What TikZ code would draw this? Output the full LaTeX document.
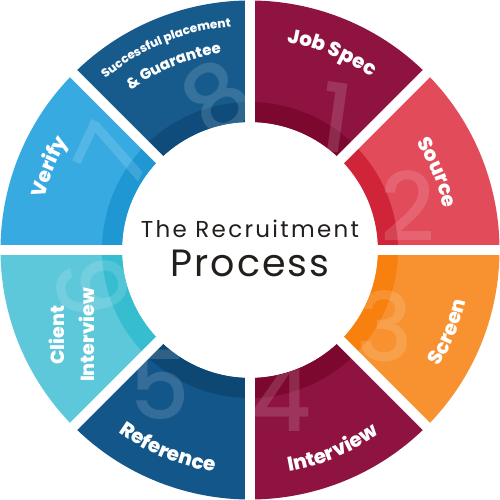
\documentclass[tikz,border=0pt]{standalone}
\usepackage{fontspec}
\setmainfont{Poppins}
\newfontfamily\heavyfont{Poppins ExtraBold}
\newfontfamily\midfont{Poppins Medium}
\usetikzlibrary{decorations.text}
\definecolor{sOneM}{HTML}{8E1341}
\definecolor{sOneB}{HTML}{7C072F}
\definecolor{sTwoM}{HTML}{E24B5A}
\definecolor{sTwoB}{HTML}{D02538}
\definecolor{sThrM}{HTML}{F89230}
\definecolor{sThrB}{HTML}{F7800F}
\definecolor{sFouM}{HTML}{8E1341}
\definecolor{sFouB}{HTML}{7C072F}
\definecolor{sFivM}{HTML}{13568A}
\definecolor{sFivB}{HTML}{0D4773}
\definecolor{sSixM}{HTML}{5DC8DA}
\definecolor{sSixB}{HTML}{36BDD0}
\definecolor{sSevM}{HTML}{37AAE1}
\definecolor{sSevB}{HTML}{1E97D2}
\definecolor{sEigM}{HTML}{175B8D}
\definecolor{sEigB}{HTML}{0F4C7B}
\definecolor{inkc}{HTML}{221E1C}
\newcommand\myLabFont{\fontsize{20}{20}\selectfont\heavyfont}
\tikzset{
  numtext/.style={text=white, opacity=0.14, font=\fontsize{95}{95}\selectfont\midfont, inner sep=0pt},
  arclab/.style={decorate, decoration={text along path, text align=center, text color=white, text={#1}}},
  gapline/.style={white, line width=10pt},
}
\begin{document}
\begin{tikzpicture}[x=1pt,y=1pt]
\useasboundingbox (-250,-250) rectangle (250,250);
% segments
\foreach \a/\m/\b in {45/sOneM/sOneB, 0/sTwoM/sTwoB, -45/sThrM/sThrB, -90/sFouM/sFouB, -135/sFivM/sFivB, 180/sSixM/sSixB, 135/sSevM/sSevB, 90/sEigM/sEigB}{
  \fill[\m] (\a:128) arc[start angle=\a, end angle=\a+45, radius=128] -- (\a+45:249.5) arc[start angle=\a+45, end angle=\a, radius=249.5] -- cycle;
  \fill[\b] (\a:128) arc[start angle=\a, end angle=\a+45, radius=128] -- (\a+45:148) arc[start angle=\a+45, end angle=\a, radius=148] -- cycle;
}
% faint numbers
\foreach \a/\n/\x/\y/\r in {45/1/86/132/-8, 0/2/158/44/0, -45/3/135/-76/0, -90/4/31/-147/0, -135/5/-90/-135/0, 180/6/-158/-38/100, 135/7/-137/95/65, 90/8/-33/152/35}{
  \begin{scope}
    \clip (\a:128) arc[start angle=\a, end angle=\a+45, radius=128] -- (\a+45:249.5) arc[start angle=\a+45, end angle=\a, radius=249.5] -- cycle;
    \node[numtext, rotate=\r] (num\n) at (\x,\y) {\n};
  \end{scope}
}
% gaps
\foreach \t in {0,45,...,315}{
  \draw[gapline] (0,0) -- (\t:256);
}
% labels
\path[arclab={|\myLabFont|Job Spec}] (90:211) arc[start angle=90, end angle=45, radius=211];
\path[arclab={|\myLabFont|Source}] (45:198) arc[start angle=45, end angle=0, radius=198];
\path[arclab={|\myLabFont|Screen}] (-45:222) arc[start angle=-45, end angle=0, radius=222];
\path[arclab={|\myLabFont|Interview}] (-90:225) arc[start angle=-90, end angle=-45, radius=225];
\path[arclab={|\myLabFont|Reference}] (-135:225) arc[start angle=-135, end angle=-90, radius=225];
\path[arclab={|\myLabFont|Verify}] (180:212) arc[start angle=180, end angle=135, radius=212];
\path[arclab={|\fontsize{12}{12}\selectfont\heavyfont|Successful placement}] (135:224) arc[start angle=135, end angle=90, radius=224];
\path[arclab={|\fontsize{15}{15}\selectfont\heavyfont|{\&} Guarantee}] (135:199) arc[start angle=135, end angle=90, radius=199];
\node[text=white, rotate=90, align=center, font=\fontsize{19}{30}\selectfont\heavyfont] (cli) at (-178,-85) {Client\\Interview};
% centre title
\node[text=inkc, anchor=base, font=\fontsize{23}{23}\selectfont\addfontfeatures{LetterSpace=10}] (title) at (0,12) {The Recruitment};
\node[text=inkc, anchor=base, font=\fontsize{38}{38}\selectfont\addfontfeatures{LetterSpace=5}] (proc) at (0,-27) {Process};
\end{tikzpicture}
\end{document}
